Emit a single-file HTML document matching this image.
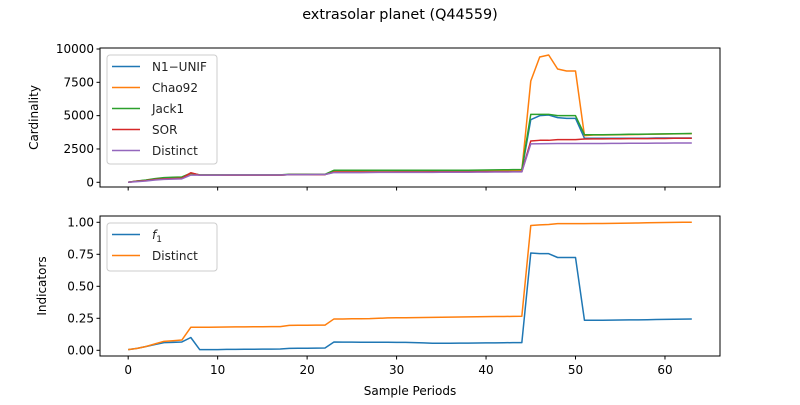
<!DOCTYPE html>
<html><head><meta charset="utf-8"><style>
body{margin:0;background:#fff;}
svg{font-family:"DejaVu Sans","Liberation Sans",sans-serif;}
</style></head><body>
<svg id="chart" width="800" height="400"></svg>
<script>
const periods = Array.from({length:64},(_,i)=>i);
const n1Unif = [0,90,150,250,320,340,360,650,540,540,540,540,540,540,540,540,540,540,580,580,580,580,580,880,880,880,880,880,880,880,880,870,870,870,870,870,870,870,870,880,880,880,880,880,880,4700,5000,5050,4850,4800,4800,3300,3300,3300,3300,3300,3300,3300,3300,3320,3320,3320,3320,3320];
const chao92 = [0,90,150,250,320,340,360,650,540,540,540,540,540,540,540,540,540,540,580,580,580,580,580,880,880,880,880,880,880,880,880,880,880,880,880,880,880,880,880,890,890,890,890,890,890,7600,9400,9550,8500,8350,8350,3500,3550,3550,3560,3570,3580,3590,3600,3610,3620,3630,3640,3650];
const jack1 = [0,100,170,280,350,380,400,680,560,560,560,560,560,560,560,560,560,560,600,600,600,600,600,900,900,900,900,900,900,900,900,900,900,900,900,900,900,900,900,910,920,930,940,950,960,5100,5100,5100,5000,5000,5000,3570,3570,3570,3580,3590,3600,3600,3610,3620,3630,3640,3650,3660];
const sor = [0,80,130,210,260,280,300,720,540,540,540,540,540,540,540,540,540,540,580,580,580,580,580,760,760,760,760,760,760,760,770,770,770,770,780,780,780,780,780,790,790,790,790,790,790,3100,3150,3150,3200,3200,3200,3250,3260,3260,3270,3270,3280,3280,3280,3290,3290,3300,3300,3300];
const distinctTop = [0,50,100,170,220,240,260,540,540,540,540,545,545,545,545,545,545,545,580,580,580,582,582,730,730,730,730,735,745,745,745,745,745,748,748,750,752,755,758,760,765,770,775,778,780,2880,2890,2900,2910,2910,2910,2910,2915,2915,2920,2920,2925,2925,2930,2935,2940,2945,2945,2950];
const f1 = [0.005,0.015,0.03,0.045,0.06,0.062,0.065,0.1,0.005,0.005,0.005,0.007,0.007,0.008,0.008,0.009,0.009,0.01,0.015,0.016,0.016,0.017,0.018,0.065,0.064,0.064,0.063,0.063,0.063,0.063,0.062,0.062,0.06,0.058,0.055,0.055,0.055,0.056,0.056,0.057,0.058,0.058,0.059,0.06,0.06,0.76,0.755,0.755,0.725,0.725,0.725,0.235,0.235,0.235,0.236,0.237,0.238,0.238,0.239,0.241,0.242,0.243,0.244,0.245];
const distinctBot = [0.005,0.015,0.03,0.05,0.07,0.075,0.08,0.18,0.18,0.18,0.181,0.182,0.183,0.183,0.184,0.184,0.185,0.185,0.195,0.196,0.196,0.197,0.197,0.245,0.245,0.246,0.246,0.247,0.25,0.253,0.254,0.254,0.255,0.256,0.257,0.258,0.259,0.26,0.261,0.262,0.263,0.264,0.264,0.265,0.266,0.975,0.98,0.983,0.99,0.99,0.99,0.99,0.991,0.991,0.992,0.993,0.994,0.995,0.996,0.997,0.998,0.999,1.0,1.0];
const xTicks = [0,10,20,30,40,50,60];
const topTicks = [0,2500,5000,7500,10000];
const botTicks = [0,0.25,0.5,0.75,1.0];
const botTickLabels = ["0.00","0.25","0.50","0.75","1.00"];

const NS="http://www.w3.org/2000/svg";
const svg=document.getElementById('chart');
const L=100,R=720;
const xs=v=>L+(v+3.15)*(R-L)/69.3;
const yTop=v=>182.3-v*0.013330;
const yBot=v=>350.3-v*128;
function mk(tag,attrs,parent){const e=document.createElementNS(NS,tag);for(const k in attrs)e.setAttribute(k,attrs[k]);(parent||svg).appendChild(e);return e;}
function txt(s,attrs){const t=mk('text',attrs);t.textContent=s;return t;}

const title=txt('extrasolar planet (Q44559)',{x:400,y:19,'text-anchor':'middle','font-size':14.4,fill:'#000'});



function panel(top,bot,yf,ticks,labels,ylabel,ylx,series,legend,name,legH){
  const g=mk('g',{});
  
  
  series.forEach(s=>{
    const p=mk('polyline',{points:periods.map((x,i)=>xs(x)+','+yf(s.d[i])).join(' '),fill:'none',stroke:s.c,'stroke-width':1.5,'stroke-linejoin':'round'},g);
    
    
  });
  mk('rect',{x:L,y:top,width:R-L,height:bot-top,fill:'none',stroke:'#000','stroke-width':1},g);
  xTicks.forEach(t=>{mk('line',{x1:xs(t),x2:xs(t),y1:bot,y2:bot+3.5,stroke:'#000'},g);});
  ticks.forEach((t,i)=>{
    mk('line',{x1:L-3.5,x2:L,y1:yf(t),y2:yf(t),stroke:'#000'},g);
    const tl=txt(labels[i],{x:L-6,y:yf(t)+4,'text-anchor':'end','font-size':12,fill:'#000'});
    
    
  });
  const yl=txt(ylabel,{x:0,y:0,transform:`translate(${ylx},${(top+bot)/2}) rotate(-90)`,'text-anchor':'middle','font-size':12,fill:'#000'});
  
  
  const lg=mk('g',{});
  
  
  mk('rect',{x:107,y:top+7,width:110,height:legH,rx:3,fill:'#fff','fill-opacity':0.8,stroke:'#ccc'},lg);
  legend.forEach((s,i)=>{
    const yy=top+18.5+i*21;
    mk('line',{x1:112,x2:140,y1:yy,y2:yy,stroke:s.c,'stroke-width':1.5},lg);
    const t=mk('text',{x:152,y:yy+4.5,'font-size':12,fill:'#222'},lg);
    if(s.sub){t.innerHTML='<tspan font-style="italic">f</tspan><tspan font-size="9" dy="3">1</tspan>';}
    else t.textContent=s.n;
    
    
  });
}
const topSeries=[{n:'N1\u2212UNIF',d:n1Unif,c:'#1f77b4'},{n:'Chao92',d:chao92,c:'#ff7f0e'},{n:'Jack1',d:jack1,c:'#2ca02c'},{n:'SOR',d:sor,c:'#d62728'},{n:'Distinct',d:distinctTop,c:'#9467bd'}];
panel(48,187,yTop,topTicks,topTicks.map(String),'Cardinality',38,topSeries,topSeries,'cardinality-panel',109);
const botSeries=[{n:'f1',d:f1,c:'#1f77b4',sub:true},{n:'Distinct',d:distinctBot,c:'#ff7f0e'}];
panel(216,356,yBot,botTicks,botTickLabels,'Indicators',46,botSeries,botSeries,'indicators-panel',48);
xTicks.forEach(t=>{
  const tl=txt(String(t),{x:xs(t),y:374,'text-anchor':'middle','font-size':12,fill:'#000'});
  
  
});
const xl=txt('Sample Periods',{x:410,y:395,'text-anchor':'middle','font-size':12,fill:'#000'});


</script>
</body></html>
